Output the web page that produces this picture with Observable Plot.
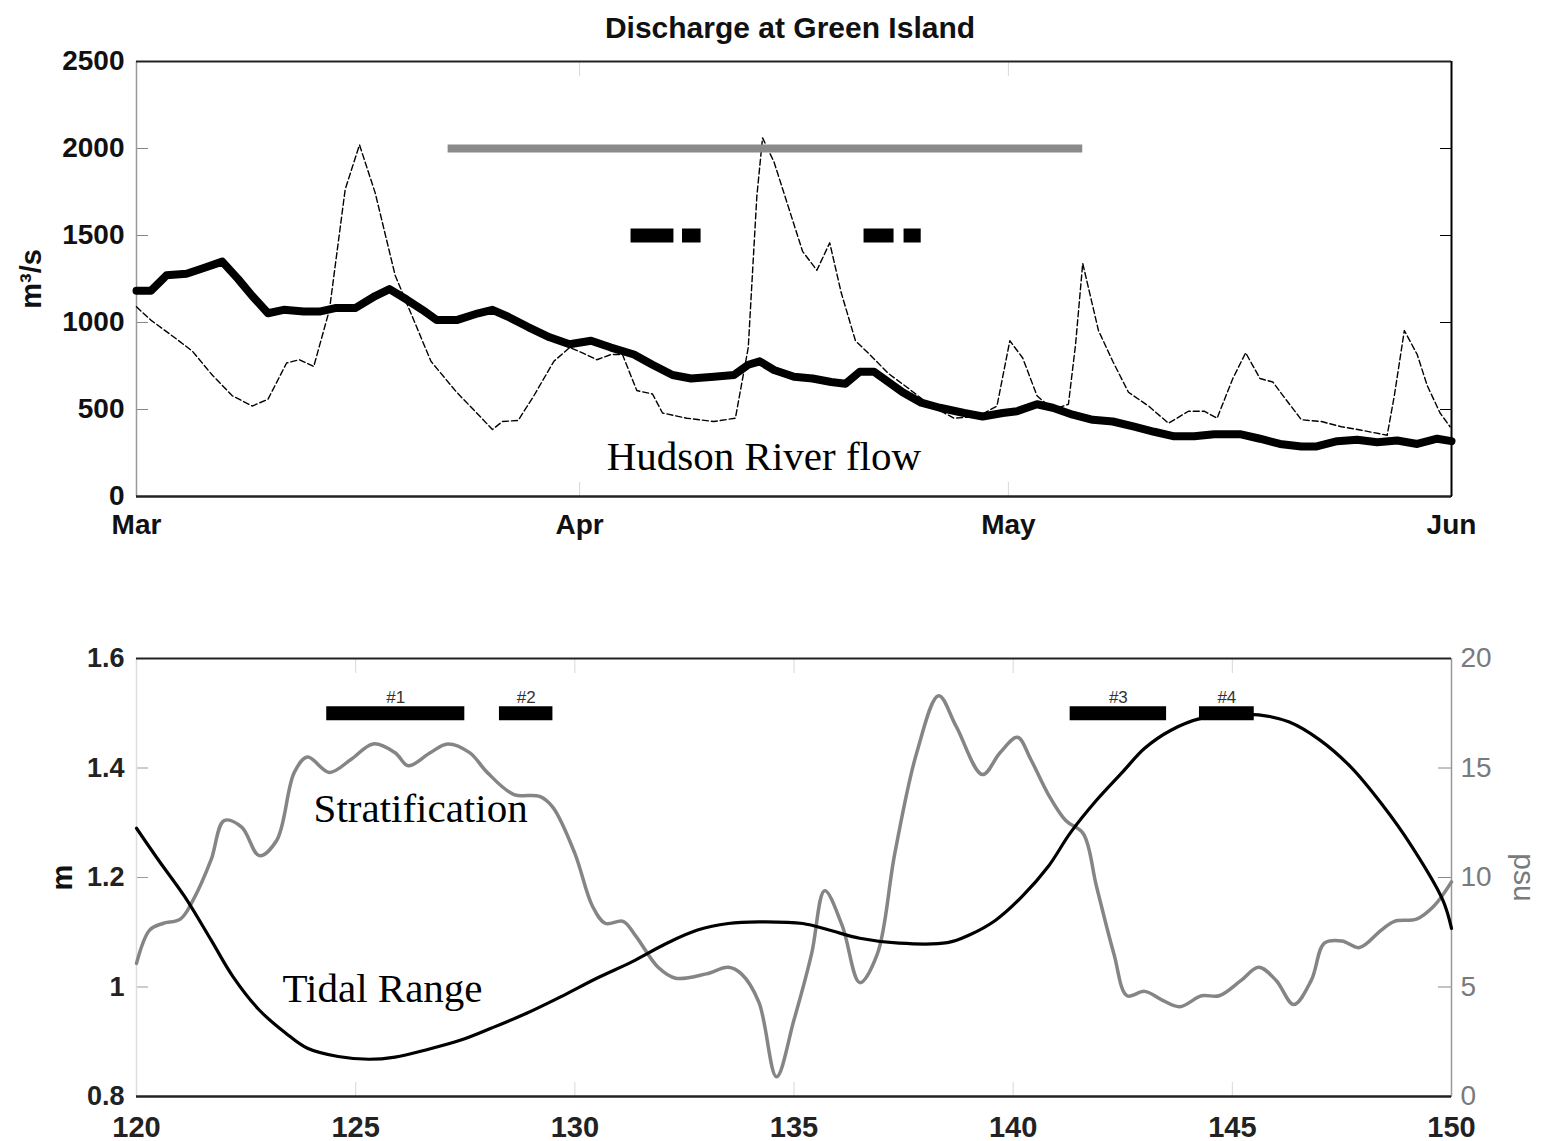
<!DOCTYPE html>
<html>
<head>
<meta charset="utf-8">
<script src="https://cdn.jsdelivr.net/npm/d3@7"></script>
<script src="https://cdn.jsdelivr.net/npm/@observablehq/plot@0.6"></script>
<style>
  body { margin: 0; background: #fff; width: 1552px; }
  #title { height: 40px; box-sizing: border-box; padding-top: 11px; padding-left: 28px; line-height: 30px;
    font: bold 30px "Liberation Sans", Arial, sans-serif; text-align: center; color: #111; }
  svg { display: block; }
</style>
</head>
<body>
<div id="title">Discharge at Green Island</div>
<div id="top"></div>
<div id="bottom"></div>
<script>
// ---------- DATA: top panel (days since 1 March) ----------
const flowDays = [0,1,2.8,3.9,5.3,6.7,8.1,9.2,10.5,11.4,12.4,13.5,14.6,15.6,16.7,18.1,19.6,20.6,22.4,23.8,24.9,25.6,26.7,27.8,29.2,30.3,31.2,32.2,33.2,34.0,35.0,36.1,36.8,38.5,40.4,41.9,42.8,43.4,43.8,44.6,45.6,46.6,47.6,48.5,49.3,50.3,51.3,52.6,53.9,55.6,57.2,58.9,60.2,61.1,62.0,63.0,64.1,65.2,65.7,66.2,67.3,68.3,69.4,70.8,72.2,73.6,74.7,75.6,76.7,77.6,78.6,79.5,80.4,81.5,82.9,84.3,85.7,87.5,88.0,88.7,89.6,90.3,91.2,91.9];
const flowVals = [1090,1014,905,836,698,579,520,559,767,786,747,1073,1765,2021,1745,1270,974,777,599,480,385,431,437,579,777,856,826,786,816,816,609,589,480,450,431,450,856,1725,2061,1923,1666,1409,1300,1458,1172,895,816,707,628,520,450,460,520,895,796,579,500,530,875,1340,954,777,599,520,421,490,490,450,678,826,678,658,559,441,431,401,381,352,579,954,816,638,480,401];

const meanDays = [0,1,2.1,3.5,4.6,6.0,7.1,8.1,9.2,10.3,11.7,12.8,13.9,15.3,16.7,17.7,18.9,20.0,21.0,22.4,23.9,24.9,26.0,27.4,28.9,30.3,31.8,33.2,34.8,36.1,37.5,38.8,40.4,41.8,42.8,43.6,44.6,46.0,47.3,48.6,49.6,50.6,51.6,52.6,53.6,54.9,56.2,57.9,59.2,60.6,61.6,63.0,64.1,65.5,66.9,68.3,69.8,71.2,72.6,74.0,75.4,77.2,78.6,80.0,81.5,82.5,84.0,85.4,86.8,88.2,89.6,91.0,92];
const meanVals = [1182,1182,1271,1280,1310,1350,1251,1152,1053,1073,1063,1063,1083,1083,1152,1192,1132,1073,1014,1014,1053,1073,1033,974,915,875,895,856,816,757,698,678,688,698,757,777,727,688,678,658,648,717,717,658,599,539,510,480,460,480,490,530,510,470,441,431,401,372,346,346,358,358,332,302,287,287,318,326,312,322,302,332,318];

const greyBarStart = [21.8], greyBarEnd = [66.2], greyBarLevel = [2000];
const blackBarStart = [34.6, 38.2, 50.9, 53.7];
const blackBarEnd   = [37.6, 39.5, 53.0, 54.9];
const blackBarLevel = [1500, 1500, 1500, 1500];

const monthTicks = ["2010-03-01", "2010-04-01", "2010-05-01", "2010-06-01"];
const flowTicks = [0, 500, 1000, 1500, 2000, 2500];
const flowLabel = ["Hudson River flow"], flowLabelDay = [32.9], flowLabelVal = [150];

// ---------- DATA: bottom panel (year day) ----------
const tideDays = [120.0,120.5,121.1,121.7,122.2,122.8,123.4,123.9,124.6,125.3,125.9,126.6,127.4,128.1,128.9,129.7,130.5,131.3,132.1,132.8,133.5,134.2,135.2,135.8,136.5,137.4,138.5,139.0,139.6,140.2,140.8,141.3,141.9,142.5,143.0,143.6,144.3,145.0,145.6,146.3,147.0,147.7,148.4,149.1,149.8,150.0];
const tideVals = [1.290,1.232,1.165,1.086,1.019,0.958,0.916,0.888,0.873,0.868,0.872,0.885,0.903,0.925,0.952,0.983,1.016,1.046,1.080,1.104,1.116,1.119,1.116,1.104,1.089,1.080,1.081,1.095,1.122,1.165,1.220,1.281,1.341,1.393,1.436,1.469,1.491,1.497,1.497,1.484,1.451,1.402,1.335,1.256,1.159,1.107];

const stratDays = [120.0,120.3,120.6,121.0,121.3,121.7,122.0,122.4,122.8,123.2,123.6,123.9,124.4,124.9,125.4,125.9,126.2,126.7,127.1,127.6,128.0,128.6,129.2,129.5,130.0,130.4,130.7,131.1,131.4,131.9,132.3,133.0,133.5,133.8,134.2,134.6,135.0,135.4,135.7,136.1,136.5,136.9,137.3,137.8,138.3,138.7,139.3,139.7,140.1,140.4,140.8,141.2,141.6,141.9,142.3,142.6,143.0,143.4,143.8,144.3,144.7,145.2,145.6,146.0,146.4,146.8,147.1,147.5,147.9,148.4,148.7,149.2,149.6,150.0];
const stratVals = [6.08,7.6,7.9,8.1,9.0,10.8,12.6,12.3,11.0,11.7,14.8,15.5,14.8,15.4,16.1,15.7,15.1,15.7,16.1,15.7,14.8,13.8,13.7,13.2,11.1,8.7,7.9,8.0,7.3,5.9,5.4,5.6,5.9,5.6,4.3,0.9,3.5,6.5,9.4,7.8,5.2,6.5,11.1,15.7,18.3,16.9,14.7,15.7,16.4,15.4,13.8,12.6,12.0,9.6,6.5,4.6,4.8,4.4,4.1,4.6,4.6,5.3,5.9,5.3,4.2,5.3,7.0,7.1,6.8,7.6,8.0,8.1,8.7,9.8];

const cruiseNames = ["#1", "#2", "#3", "#4"];
const cruiseStart = [124.34, 128.28, 141.3, 144.25];
const cruiseEnd   = [127.49, 129.5, 143.5, 145.5];
const cruiseLevel = [1.5, 1.5, 1.5, 1.5];

const mTicks = [0.8, 1, 1.2, 1.4, 1.6];
const psuTicks = [0, 5, 10, 15, 20];
const dayTicks = [120, 125, 130, 135, 140, 145, 150];
const seriesLabels = ["Stratification", "Tidal Range"];
const seriesLabelX = [124.04, 123.33];
const seriesLabelY = [1.302, 0.9735];

// ---------- helpers ----------
const day0 = Date.UTC(2010, 2, 1);
const toDate = d => new Date(day0 + d * 864e5);
const monthDates = monthTicks.map(s => new Date(s + "T00:00:00Z"));
// right axis (psu) shares the frame with the left axis (m): 0..20 psu <-> 0.8..1.6 m
const psuToM = p => 0.8 + p * (0.8 / 20);
const mToPsu = m => String(Math.round((m - 0.8) * 20 / 0.8));

const flow = flowDays.map((d, i) => ({date: toDate(d), v: flowVals[i]}));
const mean = meanDays.map((d, i) => ({date: toDate(d), v: meanVals[i]}));
const greyBars = greyBarStart.map((s, i) => ({a: toDate(s), b: toDate(greyBarEnd[i]), y: greyBarLevel[i]}));
const blackBars = blackBarStart.map((s, i) => ({a: toDate(s), b: toDate(blackBarEnd[i]), y: blackBarLevel[i]}));
const flowText = flowLabel.map((t, i) => ({t, x: toDate(flowLabelDay[i]), y: flowLabelVal[i]}));

const tide = tideDays.map((d, i) => ({x: d, y: tideVals[i]}));
const strat = stratDays.map((d, i) => ({x: d, y: psuToM(stratVals[i])}));
const cruises = cruiseNames.map((n, i) => ({n, a: cruiseStart[i], b: cruiseEnd[i], y: cruiseLevel[i]}));
const sLabels = seriesLabels.map((t, i) => ({t, x: seriesLabelX[i], y: seriesLabelY[i]}));

const FONT = '"Liberation Sans", Arial, sans-serif';
const SERIF = '"Liberation Serif", "Times New Roman", serif';
const blank = () => "";
const plain = d => String(d);

// ---------- top panel ----------
const topPlot = Plot.plot({
  width: 1552, height: 505,
  marginTop: 21, marginBottom: 49, marginLeft: 136, marginRight: 101,
  style: {fontFamily: FONT, background: "#fff", color: "#000", overflow: "visible"},
  x: {type: "utc", domain: [toDate(0), toDate(92)], label: null},
  y: {domain: [0, 2500], label: null},
  marks: [
    Plot.axisX(monthDates, {anchor: "top", tickSize: 14, dy: 14, stroke: "#d8d8d8", tickFormat: blank, label: null}),
    Plot.axisX(monthDates, {anchor: "bottom", tickSize: 14, dy: -14, stroke: "#d8d8d8", tickFormat: blank, label: null}),
    Plot.axisY(flowTicks, {anchor: "left", tickSize: 12, dx: 12, stroke: "#888", tickFormat: blank, label: null}),
    Plot.axisY(flowTicks, {anchor: "right", tickSize: 12, dx: -12, stroke: "#000", tickFormat: blank, label: null}),
    Plot.axisY(flowTicks, {anchor: "left", tickSize: 0, tickPadding: 12, tickFormat: plain, fontSize: 28, fontWeight: "bold", fill: "#111", label: null}),
    Plot.axisX(monthDates, {anchor: "bottom", tickSize: 0, tickPadding: 18, tickFormat: d3.utcFormat("%b"), fontSize: 28, fontWeight: "bold", fill: "#111", label: null}),
    Plot.ruleX([toDate(0)], {stroke: "#999", strokeWidth: 1.5}),
    Plot.ruleX([toDate(92)], {stroke: "#000", strokeWidth: 2}),
    Plot.ruleY([0], {stroke: "#222", strokeWidth: 2.5}),
    Plot.ruleY([2500], {stroke: "#222", strokeWidth: 2}),
    Plot.line(flow, {x: "date", y: "v", stroke: "#000", strokeWidth: 1.4, strokeDasharray: "6,3"}),
    Plot.line(mean, {x: "date", y: "v", stroke: "#000", strokeWidth: 8, strokeLinejoin: "round"}),
    Plot.ruleY(greyBars, {y: "y", x1: "a", x2: "b", stroke: "#8a8a8a", strokeWidth: 8}),
    Plot.ruleY(blackBars, {y: "y", x1: "a", x2: "b", stroke: "#000", strokeWidth: 14}),
    Plot.text(flowText, {x: "x", y: "y", text: "t", textAnchor: "start", lineAnchor: "bottom", fontFamily: SERIF, fontSize: 41, fill: "#000"}),
    Plot.text(["m³/s"], {frameAnchor: "left", textAnchor: "middle", dx: -105, rotate: -90, fontSize: 29, fontWeight: "bold", fill: "#111"})
  ]
});
document.getElementById("top").appendChild(topPlot);

// ---------- bottom panel ----------
const botPlot = Plot.plot({
  width: 1552, height: 596,
  marginTop: 113, marginBottom: 45, marginLeft: 136, marginRight: 101,
  style: {fontFamily: FONT, background: "#fff", color: "#000", overflow: "visible"},
  x: {domain: [120, 150], label: null},
  y: {domain: [0.8, 1.6], label: null},
  marks: [
    Plot.axisX(dayTicks, {anchor: "top", tickSize: 14, dy: 14, stroke: "#d8d8d8", tickFormat: blank, label: null}),
    Plot.axisX(dayTicks, {anchor: "bottom", tickSize: 14, dy: -14, stroke: "#d8d8d8", tickFormat: blank, label: null}),
    Plot.axisY(mTicks, {anchor: "left", tickSize: 12, dx: 12, stroke: "#999", tickFormat: blank, label: null}),
    Plot.axisY(psuTicks.map(psuToM), {anchor: "right", tickSize: 14, dx: -14, stroke: "#888", tickFormat: blank, label: null}),
    Plot.axisY(mTicks, {anchor: "left", tickSize: 0, tickPadding: 12, tickFormat: plain, fontSize: 27, fontWeight: "bold", fill: "#222", label: null}),
    Plot.axisY(psuTicks.map(psuToM), {anchor: "right", tickSize: 0, tickPadding: 9, tickFormat: mToPsu, fontSize: 28, fill: "#7a7a7a", label: null}),
    Plot.axisX(dayTicks, {anchor: "bottom", tickSize: 0, tickPadding: 20, fontSize: 29, fontWeight: "bold", fill: "#222", label: null}),
    Plot.ruleX([120], {stroke: "#ddd", strokeWidth: 1.5}),
    Plot.ruleX([150], {stroke: "#999", strokeWidth: 1.5}),
    Plot.ruleY([0.8], {stroke: "#222", strokeWidth: 2.5}),
    Plot.ruleY([1.6], {stroke: "#222", strokeWidth: 2}),
    Plot.line(strat, {x: "x", y: "y", stroke: "#858585", strokeWidth: 3.5, curve: "catmull-rom"}),
    Plot.line(tide, {x: "x", y: "y", stroke: "#000", strokeWidth: 3.2, curve: "catmull-rom"}),
    Plot.ruleY(cruises, {y: "y", x1: "a", x2: "b", stroke: "#000", strokeWidth: 14}),
    Plot.text(cruises, {x: d => (d.a + d.b) / 2, y: "y", text: "n", dy: -10, lineAnchor: "bottom", fontSize: 17, fill: "#333"}),
    Plot.text(sLabels, {x: "x", y: "y", text: "t", textAnchor: "start", lineAnchor: "bottom", fontFamily: SERIF, fontSize: 41, fill: "#000"}),
    Plot.text(["m"], {frameAnchor: "left", textAnchor: "middle", dx: -74, rotate: -90, fontSize: 29, fontWeight: "bold", fill: "#111"}),
    Plot.text(["psu"], {frameAnchor: "right", textAnchor: "middle", dx: 72, rotate: 90, fontSize: 30, fill: "#7a7a7a"})
  ]
});
document.getElementById("bottom").appendChild(botPlot);
</script>
</body>
</html>
